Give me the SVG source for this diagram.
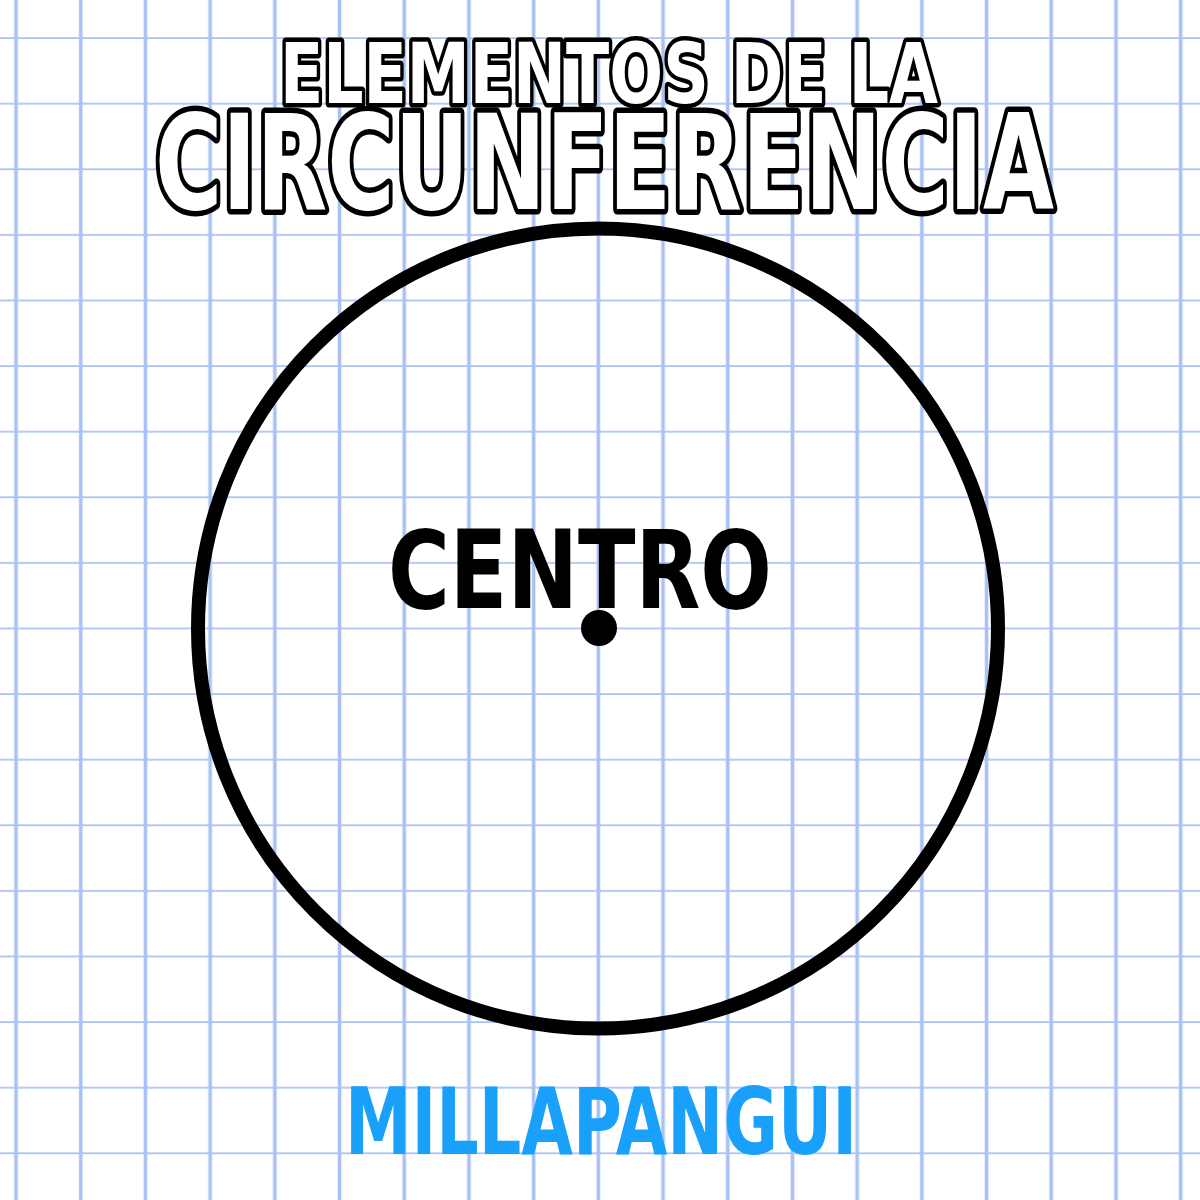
<svg xmlns="http://www.w3.org/2000/svg" width="1200" height="1200" viewBox="0 0 1200 1200">
  <defs>
    <pattern id="gridV" x="-16.35" y="0" width="64.7" height="1200" patternUnits="userSpaceOnUse">
      <rect x="30.6" y="0" width="3.6" height="1200" fill="#a9c1f3"/>
    </pattern>
    <pattern id="gridH" x="0" y="-26.6" width="1200" height="65.6" patternUnits="userSpaceOnUse">
      <rect x="0" y="63.85" width="1200" height="3.6" fill="#a9c1f3"/>
    </pattern>
  </defs>
  <style>
    .title { font-family: "DejaVu Sans", "Liberation Sans", sans-serif; font-weight: bold; fill: #ffffff; stroke: #000000; stroke-linejoin: round; paint-order: stroke fill; }
    .label { font-family: "DejaVu Sans", "Liberation Sans", sans-serif; font-weight: bold; }
  </style>
  <rect width="1200" height="1200" fill="#ffffff"/>
  <g id="grid">
    <rect width="1200" height="1200" fill="url(#gridV)"/>
    <rect width="1200" height="1200" fill="url(#gridH)"/>
  </g>
  <g id="title">
    <text class="title" x="280" y="103" font-size="83" stroke-width="9" textLength="658" lengthAdjust="spacingAndGlyphs">ELEMENTOS DE LA</text>
    <text class="title" x="155" y="209" font-size="132" stroke-width="11" textLength="899" lengthAdjust="spacingAndGlyphs">CIRCUNFERENCIA</text>
  </g>
  <g id="circunferencia">
    <circle cx="598" cy="628.5" r="400" fill="none" stroke="#000000" stroke-width="14"/>
  </g>
  <g id="centro">
    <circle cx="599" cy="628" r="18" fill="#000000"/>
    <text class="label" x="388" y="608" font-size="108" fill="#000000" textLength="384" lengthAdjust="spacingAndGlyphs">CENTRO</text>
  </g>
  <g id="autor">
    <text class="label" x="345" y="1154" font-size="92" fill="#18a0fb" textLength="512" lengthAdjust="spacingAndGlyphs">MILLAPANGUI</text>
  </g>
  <g id="connectors"/>
</svg>
